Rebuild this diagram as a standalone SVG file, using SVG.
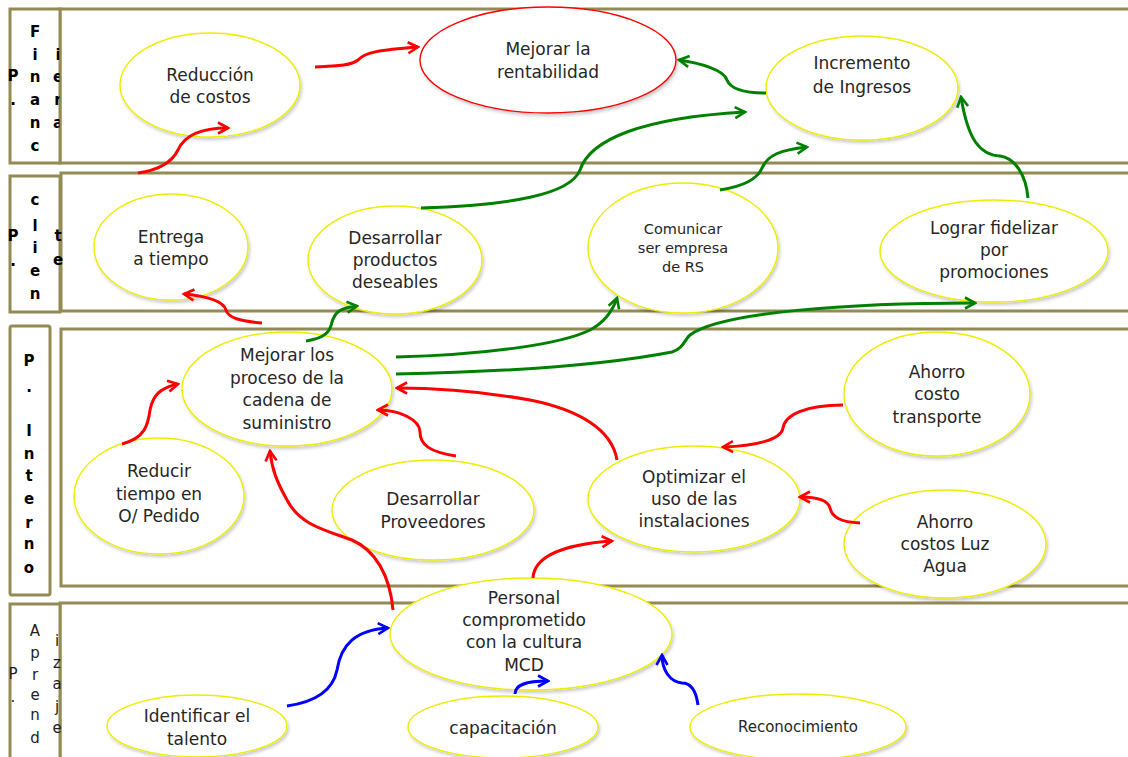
<svg xmlns="http://www.w3.org/2000/svg" width="1128" height="757" viewBox="0 0 1128 757">
<style>
.band{fill:none;stroke:#948a54;stroke-width:3}
.lbl{fill:#fff;stroke:#948a54;stroke-width:3}
.node ellipse{fill:#fff;stroke:#eded00;stroke-width:1.4;filter:url(#sh)}
.node text{font-family:"DejaVu Sans","Liberation Sans",sans-serif;font-size:17px;fill:#262626;text-anchor:middle}
.lt{font-family:"DejaVu Sans","Liberation Sans",sans-serif;font-size:15px;font-weight:bold;fill:#000;text-anchor:middle}
.la{font-family:"DejaVu Sans","Liberation Sans",sans-serif;font-size:15px;fill:#222;text-anchor:middle}
.r{fill:none;stroke:#ff0000;stroke-width:3;marker-end:url(#mr)}
.g{fill:none;stroke:#008000;stroke-width:3;marker-end:url(#mg)}
.b{fill:none;stroke:#0000ff;stroke-width:3;marker-end:url(#mb)}
</style>
<defs>
<filter id="sh" x="-10%" y="-10%" width="125%" height="130%">
<feDropShadow dx="1.5" dy="2.5" stdDeviation="1.8" flood-color="#000" flood-opacity="0.2"/>
</filter>
<marker id="mr" viewBox="0 0 14 14" refX="12" refY="7" markerWidth="14" markerHeight="14" markerUnits="userSpaceOnUse" orient="auto"><path d="M2,1.5 L12,7 L2,12.5" fill="none" stroke="#ff0000" stroke-width="2.6"/></marker>
<marker id="mg" viewBox="0 0 14 14" refX="12" refY="7" markerWidth="14" markerHeight="14" markerUnits="userSpaceOnUse" orient="auto"><path d="M2,1.5 L12,7 L2,12.5" fill="none" stroke="#008000" stroke-width="2.6"/></marker>
<marker id="mb" viewBox="0 0 14 14" refX="12" refY="7" markerWidth="14" markerHeight="14" markerUnits="userSpaceOnUse" orient="auto"><path d="M2,1.5 L12,7 L2,12.5" fill="none" stroke="#0000ff" stroke-width="2.6"/></marker>
<clipPath id="cf"><rect x="0" y="0" width="59.5" height="170"/></clipPath>
</defs>
<rect width="1128" height="757" fill="#fff"/>

<g id="bands">
<rect class="band" x="60" y="9" width="1080" height="154"/>
<rect class="band" x="61" y="173" width="1080" height="138"/>
<rect class="band" x="61" y="329" width="1080" height="257"/>
<rect class="band" x="60" y="603" width="1080" height="170"/>
</g>

<g id="lane-financiera">
<rect class="lbl" x="10" y="9" width="50" height="154"/>
<text class="lt" x="13" y="81">P</text><text class="lt" x="13" y="105">.</text>
<text class="lt" x="35" y="37">F</text><text class="lt" x="35" y="60">i</text><text class="lt" x="35" y="82">n</text><text class="lt" x="35" y="105">a</text><text class="lt" x="35" y="128">n</text><text class="lt" x="35" y="151">c</text>
<g clip-path="url(#cf)"><text class="lt" x="58" y="60">i</text><text class="lt" x="58" y="82">e</text><text class="lt" x="58" y="105">r</text><text class="lt" x="58" y="128">a</text></g>
</g>

<g id="lane-clientes">
<rect class="lbl" x="10" y="176" width="50" height="136"/>
<text class="lt" x="13" y="241">P</text><text class="lt" x="13" y="266">.</text>
<text class="lt" x="35" y="205">c</text><text class="lt" x="35" y="231">l</text><text class="lt" x="35" y="253">i</text><text class="lt" x="35" y="276">e</text><text class="lt" x="35" y="299">n</text>
<text class="lt" x="58" y="241">t</text><text class="lt" x="58" y="265">e</text>
</g>

<g id="lane-interno">
<rect class="lbl" x="10" y="326" width="40" height="269" rx="2"/>
<text class="lt" x="29" y="366">P</text><text class="lt" x="29" y="392">.</text>
<text class="lt" x="29" y="436">I</text><text class="lt" x="29" y="459">n</text><text class="lt" x="29" y="481">t</text><text class="lt" x="29" y="504">e</text><text class="lt" x="29" y="528">r</text><text class="lt" x="29" y="549">n</text><text class="lt" x="29" y="573">o</text>
</g>

<g id="lane-aprendizaje">
<rect class="lbl" x="10" y="604" width="50" height="170"/>
<text class="la" x="13" y="679">P</text><text class="la" x="13" y="702">.</text>
<text class="la" x="35" y="636">A</text><text class="la" x="35" y="658">p</text><text class="la" x="35" y="680">r</text><text class="la" x="35" y="700">e</text><text class="la" x="35" y="720">n</text><text class="la" x="35" y="743">d</text>
<text class="la" x="57" y="646">i</text><text class="la" x="57" y="668">z</text><text class="la" x="57" y="689">a</text><text class="la" x="57" y="712">j</text><text class="la" x="57" y="733">e</text>
</g>

<g id="n-reduccion" class="node"><ellipse cx="210" cy="85" rx="90" ry="52"/><text x="210" y="81">Reducción</text><text x="210" y="103">de costos</text></g>
<g id="n-rentabilidad" class="node"><ellipse cx="548" cy="60" rx="128" ry="53" style="stroke:#ff0000"/><text x="548" y="55">Mejorar la</text><text x="548" y="78">rentabilidad</text></g>
<g id="n-ingresos" class="node"><ellipse cx="862" cy="88" rx="96" ry="52"/><text x="862" y="69">Incremento</text><text x="862" y="93">de Ingresos</text></g>

<g id="n-entrega" class="node"><ellipse cx="171" cy="247" rx="77" ry="53"/><text x="171" y="243">Entrega</text><text x="171" y="265">a tiempo</text></g>
<g id="n-productos" class="node"><ellipse cx="395" cy="260" rx="87" ry="54"/><text x="395" y="244">Desarrollar</text><text x="395" y="266">productos</text><text x="395" y="288">deseables</text></g>
<g id="n-comunicar" class="node"><ellipse cx="683" cy="248" rx="95" ry="65"/><text x="683" y="234" style="font-size:14.5px">Comunicar</text><text x="683" y="253" style="font-size:14.5px">ser empresa</text><text x="683" y="272" style="font-size:14.5px">de RS</text></g>
<g id="n-fidelizar" class="node"><ellipse cx="994" cy="251" rx="114" ry="51"/><text x="994" y="234">Lograr fidelizar</text><text x="994" y="256">por</text><text x="994" y="278">promociones</text></g>

<g id="n-cadena" class="node"><ellipse cx="287" cy="389" rx="105" ry="57"/><text x="287" y="361">Mejorar los</text><text x="287" y="384">proceso de la</text><text x="287" y="406">cadena de</text><text x="287" y="429">suministro</text></g>
<g id="n-reducir" class="node"><ellipse cx="159" cy="496" rx="85" ry="58"/><text x="159" y="477">Reducir</text><text x="159" y="500">tiempo en</text><text x="159" y="522">O/ Pedido</text></g>
<g id="n-proveedores" class="node"><ellipse cx="433" cy="510" rx="101" ry="50"/><text x="433" y="505">Desarrollar</text><text x="433" y="528">Proveedores</text></g>
<g id="n-optimizar" class="node"><ellipse cx="694" cy="499" rx="106" ry="53"/><text x="694" y="483">Optimizar el</text><text x="694" y="505">uso de las</text><text x="694" y="527">instalaciones</text></g>
<g id="n-transporte" class="node"><ellipse cx="937" cy="394" rx="93" ry="62"/><text x="937" y="378">Ahorro</text><text x="937" y="400">costo</text><text x="937" y="423">transporte</text></g>
<g id="n-luzagua" class="node"><ellipse cx="945" cy="544" rx="101" ry="54"/><text x="945" y="528">Ahorro</text><text x="945" y="550">costos Luz</text><text x="945" y="572">Agua</text></g>

<g id="n-personal" class="node"><ellipse cx="531" cy="634" rx="141" ry="56"/><text x="524" y="604">Personal</text><text x="524" y="626">comprometido</text><text x="524" y="648">con la cultura</text><text x="524" y="671">MCD</text></g>
<g id="n-talento" class="node"><ellipse cx="197" cy="726" rx="90" ry="31"/><text x="197" y="722">Identificar el</text><text x="197" y="745">talento</text></g>
<g id="n-capacitacion" class="node"><ellipse cx="503" cy="727" rx="95" ry="31"/><text x="503" y="734">capacitación</text></g>
<g id="n-reconocimiento" class="node"><ellipse cx="798" cy="727" rx="108" ry="33"/><text x="798" y="732" style="font-size:15px">Reconocimiento</text></g>

<g id="connectors">
<path class="r" d="M138,173 C160,170 172,162 178,150 C184,136 200,128 228,128"/>
<path class="r" d="M315,67 C340,66 352,65 358,60 C365,52 380,50 418,47"/>
<path class="r" d="M262,323 C240,321 228,318 226,310 C223,300 205,296 184,294"/>
<path class="r" d="M122,444 C145,438 148,425 150,410 C153,395 160,388 178,384"/>
<path class="r" d="M456,456 C430,452 420,445 420,432 C420,420 400,410 378,410"/>
<path class="r" d="M617,460 C612,430 580,410 530,400 C480,391 440,388 397,388"/>
<path class="r" d="M393,610 C390,575 375,550 352,540 C325,530 300,525 287,500 C277,482 272,470 270,451"/>
<path class="r" d="M533,578 C534,560 555,545 612,541"/>
<path class="r" d="M843,405 C805,405 785,415 783,428 C781,440 755,446 723,447"/>
<path class="r" d="M860,523 C840,522 832,517 830,508 C828,500 815,497 800,497"/>
<path class="g" d="M766,93 C740,93 730,88 727,80 C724,70 700,63 679,60"/>
<path class="g" d="M421,208 C510,205 570,195 580,170 C590,140 640,118 745,112"/>
<path class="g" d="M720,190 C745,186 758,178 762,168 C768,155 780,150 807,147"/>
<path class="g" d="M1028,198 C1026,175 1015,158 1000,156 C980,155 968,140 961,97"/>
<path class="g" d="M306,341 C325,338 330,332 332,322 C335,312 340,308 357,306"/>
<path class="g" d="M396,357 C480,355 560,345 590,330 C605,322 613,310 617,298"/>
<path class="g" d="M396,374 C500,372 600,366 672,352 C684,348 684,340 690,335 C720,312 850,303 975,303"/>
<path class="b" d="M287,706 C315,702 333,690 337,670 C341,645 355,630 388,628"/>
<path class="b" d="M515,694 C515,685 525,681 548,681"/>
<path class="b" d="M698,705 C696,690 690,683 682,683 C670,682 662,670 662,655"/>
</g>
</svg>
